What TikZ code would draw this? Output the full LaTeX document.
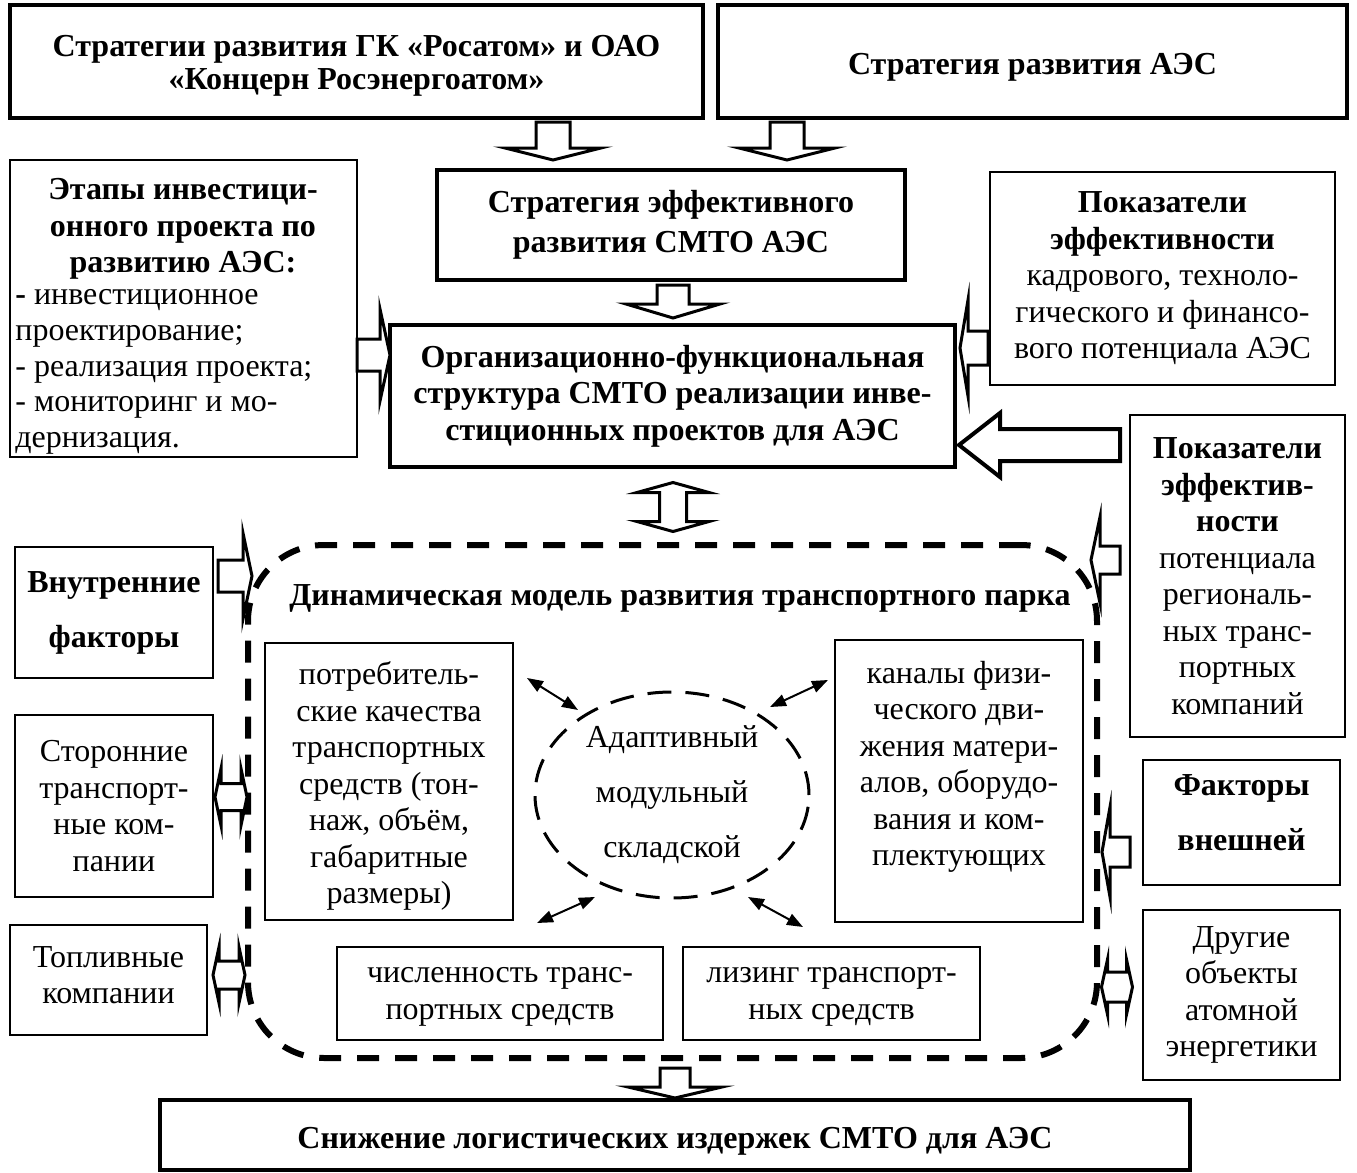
\documentclass[tikz,border=0pt]{standalone}
\usepackage{fontspec}
\setmainfont{Liberation Serif}
\usetikzlibrary{shapes.geometric,arrows.meta}

\begin{document}
\begin{tikzpicture}[x=0.5pt,y=-0.5pt,
  txt/.style={font=\fontsize{16pt}{18.25pt}\selectfont},
  boldtxt/.style={font=\fontsize{16pt}{18.25pt}\selectfont\bfseries},
  thickbox/.style={draw, line width=2pt, inner sep=0pt, align=center, boldtxt},
  thinbox/.style={draw, line width=1pt, inner sep=0pt, align=center, txt},
  blk/.style={draw, line width=1.5pt, fill=white, miter limit=25},
  link/.style={line width=1pt, {Triangle[length=8pt,width=6pt]}-{Triangle[length=8pt,width=6pt]}},
  % single block arrow: tip at the origin, pointing along +x
  % #1 total length, #2 head length, #3 shaft half width, #4 head half width
  pics/blkarrow/.style n args={4}{code={
    \draw[blk] (0,0) -- (-#2,#4) -- (-#2,#3) -- (-#1,#3) -- (-#1,-#3) -- (-#2,-#3) -- (-#2,-#4) -- cycle;}},
  % double block arrow centred on the origin, along the x axis
  pics/blkdouble/.style n args={4}{code={
    \draw[blk] (#1/2,0) -- (#1/2-#2,#4) -- (#1/2-#2,#3) -- (-#1/2+#2,#3) -- (-#1/2+#2,#4) -- (-#1/2,0)
      -- (-#1/2+#2,-#4) -- (-#1/2+#2,-#3) -- (#1/2-#2,-#3) -- (#1/2-#2,-#4) -- cycle;}},
]
\useasboundingbox[fill=white] (0,0) rectangle (1357,1173);

% ---- top level strategies
\node[thickbox, minimum width=346.5pt, minimum height=56.5pt] (rosatom) at (356.5,61.5) {};
\node[align=center, font=\fontsize{16pt}{16.5pt}\selectfont\bfseries] (rosatomtext) at (356.5,66)
  {Стратегии развития ГК «Росатом» и ОАО\\«Концерн Росэнергоатом»};
\node[thickbox, minimum width=314.5pt, minimum height=56.5pt] (npp) at (1032.5,61.5) {};
\node[boldtxt] (npptext) at (1032.5,67) {Стратегия развития АЭС};
\node[thickbox, minimum width=234pt, minimum height=55pt,
      font=\fontsize{16pt}{20pt}\selectfont\bfseries] (smto) at (671,225)
  {Стратегия эффективного\\развития СМТО АЭС};
\node[thickbox, minimum width=282.5pt, minimum height=71pt] (org) at (672.5,396)
  {Организационно-функциональная\\структура СМТО реализации инве-\\стиционных проектов для АЭС};

% ---- stages of the investment project
\node[thinbox, minimum width=173.5pt, minimum height=148.5pt] (stages) at (183.5,308.5) {};
\node[boldtxt, align=center] (stageshead) at (183,229)
  {Этапы инвестици-\\онного проекта по\\развитию АЭС:};
\node[txt, align=left, anchor=west, inner sep=0pt, font=\fontsize{16pt}{17.8pt}\selectfont]
  (stageslist) at (15,372)
  {\textbf{-} инвестиционное\\проектирование;\\- реализация проекта;\\- мониторинг и мо-\\дернизация.};

% ---- side inputs
\node[thinbox, minimum width=172.5pt, minimum height=106.5pt] (kpi) at (1162.5,278.5)
  {\textbf{Показатели}\\\textbf{эффективности}\\кадрового, техноло-\\гического и финансо-\\вого потенциала АЭС};
\node[thinbox, minimum width=107.5pt, minimum height=161pt] (kpireg) at (1237.5,576)
  {\textbf{Показатели}\\\textbf{эффектив-}\\\textbf{ности}\\потенциала\\региональ-\\ных транс-\\портных\\компаний};
\node[thinbox, minimum width=99pt, minimum height=65.5pt,
      font=\fontsize{16pt}{27.5pt}\selectfont\bfseries] (inner) at (114,612.5)
  {Внутренние\\факторы};
\node[thinbox, minimum width=99pt, minimum height=91pt] (third) at (114,806)
  {Сторонние\\транспорт-\\ные ком-\\пании};
\node[thinbox, minimum width=98.5pt, minimum height=55pt] (fuel) at (108.5,980) {};
\node[txt, align=center] (fueltext) at (108.5,975) {Топливные\\компании};
\node[thinbox, minimum width=98.5pt, minimum height=62.5pt] (outer) at (1241.5,822.5) {};
\node[align=center, font=\fontsize{16pt}{27.5pt}\selectfont\bfseries] (outertext) at (1241.5,813)
  {Факторы\\внешней};
\node[thinbox, minimum width=98.5pt, minimum height=85pt] (other) at (1241.5,995)
  {Другие\\объекты\\атомной\\энергетики};

% ---- dynamic model of the transport fleet
\node[draw, line width=3pt, dash pattern=on 11pt off 8pt, rounded corners=38pt, inner sep=0pt,
      minimum width=424.5pt, minimum height=256.5pt] (model) at (672.5,801.5) {};
\node[boldtxt] (modeltitle) at (680,598)
  {Динамическая модель развития транспортного парка};
\node[thinbox, minimum width=124pt, minimum height=138.5pt] (quality) at (389,781.5) {};
\node[txt, align=center] (qualitytext) at (389,786)
  {потребитель-\\ские качества\\транспортных\\средств (тон-\\наж, объём,\\габаритные\\размеры)};
\node[thinbox, minimum width=124pt, minimum height=141pt] (channels) at (959,781) {};
\node[txt, align=center] (channelstext) at (959,767)
  {каналы физи-\\ческого дви-\\жения матери-\\алов, оборудо-\\вания и ком-\\плектующих};
\node[thinbox, minimum width=163pt, minimum height=46.5pt] (count) at (500,993.5) {};
\node[txt, align=center] (counttext) at (500,997) {численность транс-\\портных средств};
\node[thinbox, minimum width=148.5pt, minimum height=46.5pt] (leasing) at (831.5,993.5) {};
\node[txt, align=center] (leasingtext) at (831.5,997) {лизинг транспорт-\\ных средств};
\node[ellipse, draw, line width=1.5pt, dash pattern=on 12pt off 7pt, inner sep=0pt,
      minimum width=137pt, minimum height=103pt, align=center,
      font=\fontsize{16pt}{27.5pt}\selectfont] (store) at (672,795)
  {Адаптивный\\модульный\\складской};

% ---- result
\node[thickbox, minimum width=515pt, minimum height=35pt] (result) at (675,1135) {};
\node[boldtxt] (resulttext) at (675,1141) {Снижение логистических издержек СМТО для АЭС};

% ---- links around the warehouse module
\coordinate (q1) at (527,678);  \coordinate (q2) at (578,710);
\coordinate (c1) at (828,680);  \coordinate (c2) at (770,707);
\coordinate (n1) at (537,923);  \coordinate (n2) at (595,897);
\coordinate (l1) at (748,897);  \coordinate (l2) at (803,927);
\draw[link] (q1) -- (q2);
\draw[link] (c1) -- (c2);
\draw[link] (n1) -- (n2);
\draw[link] (l1) -- (l2);

% ---- block arrows
\pic[rotate=-90] at (553,160) {blkarrow={38}{12}{17}{48}};
\pic[rotate=-90] at (787,160) {blkarrow={38}{12}{17}{48}};
\pic[rotate=-90] at (673,318) {blkarrow={33}{14}{16}{47}};
\pic[rotate=-90] at (675,1098) {blkarrow={30}{11}{15}{47}};
\pic at (390,355) {blkarrow={33}{10}{16}{46}};
\pic at (252,576) {blkarrow={34}{9}{16}{43}};
\pic[rotate=180] at (960,348) {blkarrow={28}{8}{17}{48}};
\pic[rotate=180, blk/.append style={line width=2pt}] at (959,445) {blkarrow={161}{41}{16}{32}};
\pic[rotate=180] at (1091,560) {blkarrow={29}{9}{14}{43}};
\pic[rotate=180] at (1102,852) {blkarrow={28}{8}{15}{45}};
\pic[rotate=90] at (673,507) {blkdouble={49}{10}{13.5}{36}};
\pic at (231,797) {blkdouble={32}{6}{13.5}{28.5}};
\pic at (229,975) {blkdouble={32}{6}{14}{28}};
\pic at (1117,987) {blkdouble={31}{6}{15}{27.5}};
\end{tikzpicture}
\end{document}
